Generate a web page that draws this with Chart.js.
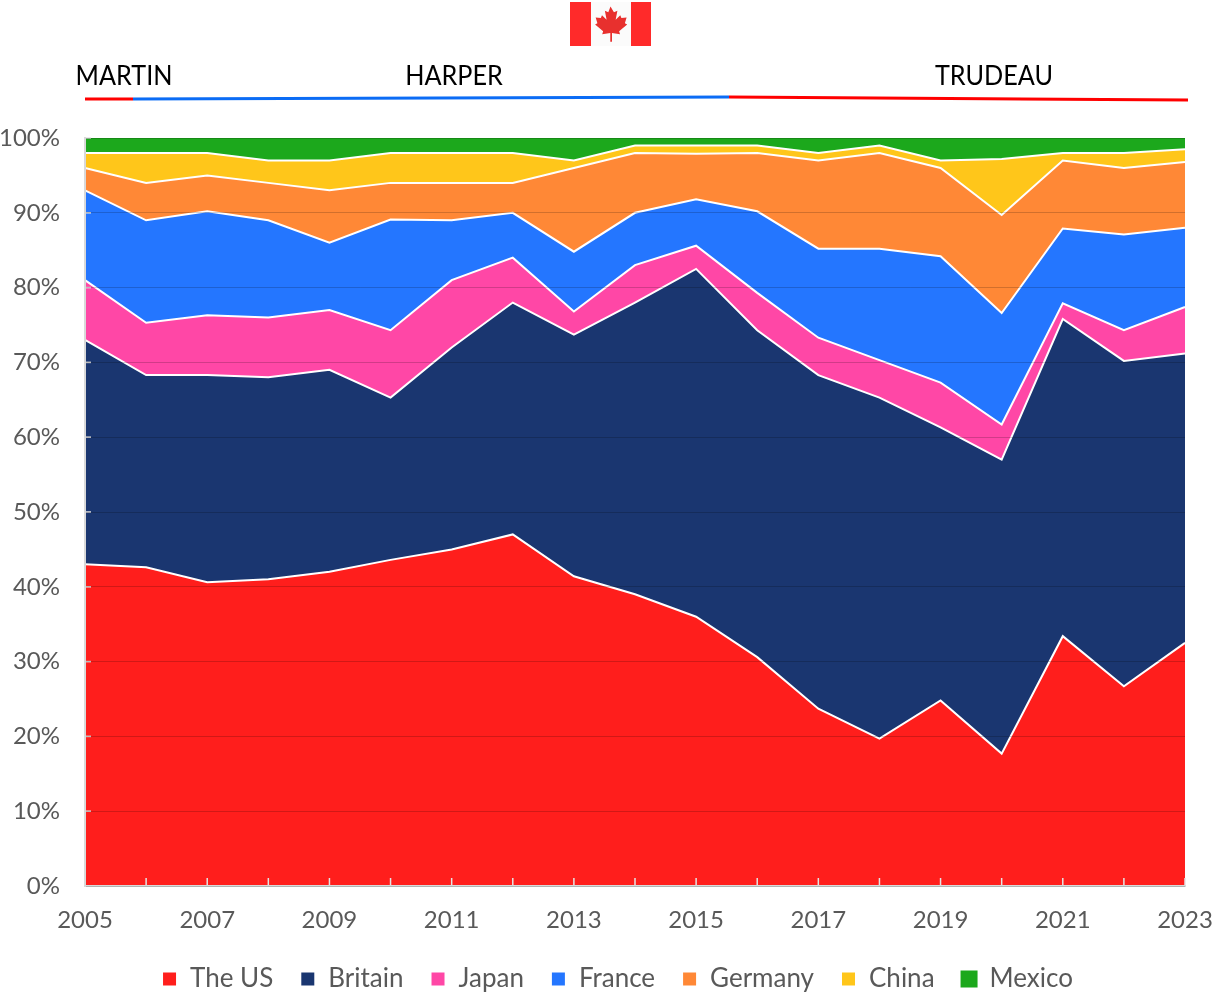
<!DOCTYPE html>
<html>
<head>
<meta charset="utf-8">
<title>Canada</title>
<script src="https://cdn.jsdelivr.net/npm/chart.js@4"></script>
<style>
  html, body { margin: 0; padding: 0; background: #fff; }
  #wrap { position: relative; width: 1216px; height: 1002px; overflow: hidden; }
  canvas { position: absolute; left: 0; top: 0; }
  svg { position: absolute; left: 0; top: 0; }
  .pm { position: absolute; top: 59px; font: 26px Lato, sans-serif; color: #000; white-space: nowrap; transform: translateX(-50%) scaleX(.97); }
</style>
</head>
<body>
<div id="wrap">
  <canvas id="myChart" width="1216" height="1002"></canvas>
  <svg width="1216" height="110">
    <rect x="570" y="2" width="21" height="44" fill="#ff2a2a"/>
    <rect x="591" y="2" width="40" height="44" fill="#fbfbfb"/>
    <rect x="631" y="2" width="20" height="44" fill="#ff2a2a"/>
    <path transform="translate(610.500 25) scale(1.150) translate(-610.500 -25)" fill="#e8302e" d="M610.5 9l3 5 3-1.5-1.5 8 4-4 1 2.500 4.500-.5-1.500 5 2 1-7 6 .8 2.500-7-1 0 7.500h-1.500l0-7.500-7 1 .8-2.500-7-6 2-1-1.500-5 4.500.5 1-2.500 4 4-1.500-8 3 1.500z"/>
    <line x1="85" y1="99" x2="133" y2="99" stroke="#ff0000" stroke-width="3"/>
    <line x1="133" y1="99" x2="729" y2="97" stroke="#0b6cf5" stroke-width="3"/>
    <line x1="729" y1="97" x2="1188" y2="100" stroke="#ff0000" stroke-width="3"/>
  </svg>
  <div class="pm" style="left:124px">MARTIN</div>
  <div class="pm" style="left:454px">HARPER</div>
  <div class="pm" style="left:994px">TRUDEAU</div>
</div>
<script>
var years = ["2005","2006","2007","2008","2009","2010","2011","2012","2013","2014","2015","2016","2017","2018","2019","2020","2021","2022","2023"];

var theUS   = [43, 42.6, 40.6, 41, 42, 43.6, 45, 47, 41.4, 39, 36, 30.6, 23.7, 19.7, 24.8, 17.7, 33.4, 26.7, 32.5];
var britain = [30, 25.7, 27.7, 27, 27, 21.7, 27, 31, 32.3, 39, 46.5, 43.7, 44.6, 45.6, 36.5, 39.3, 42.4, 43.5, 38.7];
var japan   = [8, 7, 8, 8, 8, 9, 9, 6, 3.1, 5, 3.1, 5, 5, 5, 6, 4.7, 2.1, 4.1, 6.2];
var france  = [12, 13.7, 13.9, 13, 9, 14.8, 8, 6, 8, 7, 6.2, 10.9, 11.9, 14.9, 16.9, 14.9, 10, 12.8, 10.6];
var germany = [3, 5, 4.8, 5, 7, 4.9, 5, 4, 11.2, 8, 6.1, 7.8, 11.8, 12.8, 11.8, 13.1, 9.1, 8.9, 8.8];
var china   = [2, 4, 3, 3, 4, 4, 4, 4, 1, 1, 1.1, 1, 1, 1, 1, 7.5, 1, 2, 1.7];
var mexico  = [2, 2, 2, 3, 3, 2, 2, 2, 3, 1, 1, 1, 2, 1, 3, 2.8, 2, 2, 1.5];

function area(label, values, color, fill, border) {
  return {
    label: label,
    data: values,
    backgroundColor: color,
    borderColor: border || "#fff",
    borderWidth: 2,
    pointRadius: 0,
    tension: 0,
    fill: fill
  };
}

// short tick marks pointing into the plot, plus moves the legend to where it sits in the picture
var axisMarks = {
  id: "axisMarks",
  afterLayout: function (chart) {
    chart.legend.left += 25;
    chart.legend.right += 25;
  },
  afterDatasetsDraw: function (chart) {
    var c = chart.ctx, a = chart.chartArea;
    c.save();
    c.strokeStyle = "#e4e4e4";
    c.lineWidth = 1.5;
    years.forEach(function (y, i) {
      var px = chart.scales.x.getPixelForValue(i);
      c.beginPath(); c.moveTo(px, a.bottom); c.lineTo(px, a.bottom - 8); c.stroke();
    });
    chart.scales.y.ticks.forEach(function (t) {
      var py = chart.scales.y.getPixelForValue(t.value);
      c.beginPath(); c.moveTo(a.left, py); c.lineTo(a.left + 6, py); c.stroke();
    });
    c.restore();
  }
};

var ctx = document.getElementById("myChart");
new Chart(ctx, {
  type: "line",
  data: {
    labels: years,
    datasets: [
      area("The US", theUS, "#ff1e1c", "origin"),
      area("Britain", britain, "#1a3670", "-1"),
      area("Japan", japan, "#ff47a6", "-1"),
      area("France", france, "#2476ff", "-1"),
      area("Germany", germany, "#ff8836", "-1"),
      area("China", china, "#ffc61a", "-1"),
      area("Mexico", mexico, "#1ca81c", "-1", "#1ca81c")
    ]
  },
  options: {
    responsive: false,
    animation: false,
    layout: { padding: { left: 0, top: 138, right: 31, bottom: 0 } },
    scales: {
      x: {
        offset: false,
        afterFit: function (s) {
          s.height = 53;
          s.paddingLeft = 0;
          s.paddingRight = 0;
        },
        grid: { display: true, drawOnChartArea: false, drawTicks: false },
        border: { display: true, color: "#d9d9d9", width: 2, z: 1 },
        ticks: {
          autoSkip: false,
          maxRotation: 0,
          padding: 20,
          color: "#595959",
          font: { family: "Lato", size: 24 },
          callback: function (v, i) { return i % 2 === 0 ? years[i] : ""; }
        }
      },
      y: {
        stacked: true,
        min: 0,
        max: 100,
        afterFit: function (s) { s.width = 85; },
        grid: { color: "rgba(0,0,0,0.18)", lineWidth: 1, z: 1, drawTicks: false },
        border: { display: true, color: "#d9d9d9", width: 2, z: 1 },
        ticks: {
          stepSize: 10,
          padding: 25,
          color: "#595959",
          font: { family: "Lato", size: 24 },
          callback: function (v) { return v + "%"; }
        }
      }
    },
    plugins: {
      tooltip: { enabled: false },
      legend: {
        position: "bottom",
        labels: {
          boxWidth: 15,
          boxHeight: 15,
          padding: 27,
          color: "#595959",
          font: { family: "Lato", size: 26 }
        }
      }
    }
  },
  plugins: [axisMarks]
});
</script>
</body>
</html>
